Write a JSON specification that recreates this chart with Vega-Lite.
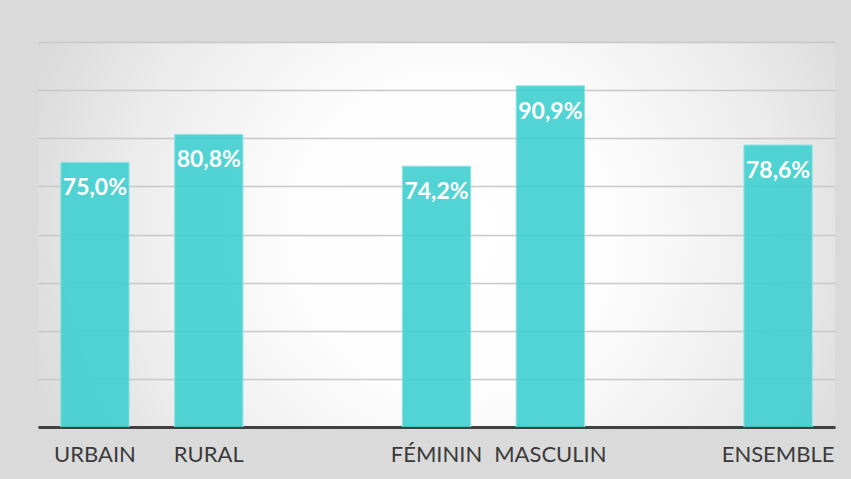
{
  "$schema": "https://vega.github.io/schema/vega-lite/v6.json",
  "width": 797,
  "height": 385,
  "autosize": {"type": "none"},
  "padding": {"left": 38, "top": 42, "right": 16, "bottom": 52},
  "background": "#dadada",
  "config": {
    "view": {
      "stroke": null,
      "fill": {
        "gradient": "radial",
        "x1": 0.52, "y1": 0.5, "r1": 0,
        "x2": 0.52, "y2": 0.5, "r2": 0.68,
        "stops": [
          {"offset": 0, "color": "#ffffff"},
          {"offset": 0.3, "color": "#fdfdfd"},
          {"offset": 0.6, "color": "#ececec"},
          {"offset": 0.8, "color": "#dcdcdc"},
          {"offset": 1, "color": "#cfcfcf"}
        ]
      }
    }
  },
  "data": {
    "values": [
      {"cat": "URBAIN", "v": 75.0, "label": "75,0%"},
      {"cat": "RURAL", "v": 80.8, "label": "80,8%"},
      {"cat": "FÉMININ", "v": 74.2, "label": "74,2%"},
      {"cat": "MASCULIN", "v": 90.9, "label": "90,9%"},
      {"cat": "ENSEMBLE", "v": 78.6, "label": "78,6%"}
    ]
  },
  "encoding": {
    "x": {
      "field": "cat",
      "type": "nominal",
      "sort": null,
      "scale": {
        "domain": ["URBAIN", "RURAL", " ", "FÉMININ", "MASCULIN", "  ", "ENSEMBLE"],
        "paddingInner": 0.4,
        "paddingOuter": 0.2
      },
      "axis": {
        "orient": "bottom",
        "domain": true,
        "domainColor": "#404040",
        "domainWidth": 3,
        "ticks": false,
        "grid": false,
        "title": null,
        "labelAngle": 0,
        "labelFont": "Lato",
        "labelFontSize": 22,
        "labelColor": "#3a3a3a",
        "labelPadding": 17
      }
    },
    "y": {
      "field": "v",
      "type": "quantitative",
      "scale": {"domain": [20, 100], "nice": false, "zero": false},
      "axis": {
        "grid": true,
        "values": [20, 30, 40, 50, 60, 70, 80, 90, 100],
        "labels": false,
        "ticks": false,
        "domain": false,
        "title": null,
        "gridColor": "#c8c8c8",
        "gridWidth": 1.5
      }
    }
  },
  "layer": [
    {
      "mark": {"type": "bar", "clip": true, "fill": "#3fcfcf", "fillOpacity": 0.9, "stroke": "#8fe3e3", "strokeWidth": 1}
    },
    {
      "mark": {"type": "text", "color": "#ffffff", "font": "Lato", "fontWeight": "bold", "fontSize": 23, "baseline": "middle", "dy": 26},
      "encoding": {
        "text": {"field": "label"}
      }
    }
  ]
}
